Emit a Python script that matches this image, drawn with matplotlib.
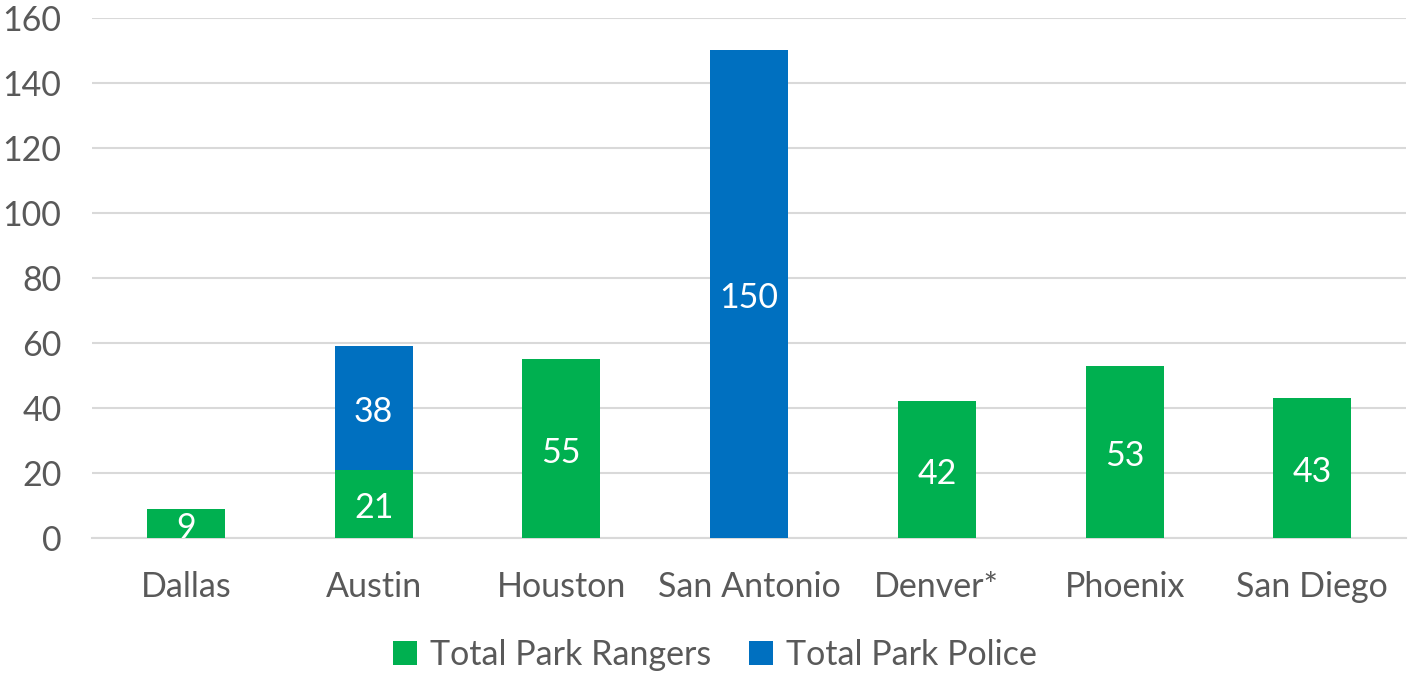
import matplotlib
matplotlib.use("Agg")
import matplotlib.pyplot as plt
import numpy as np

plt.rcParams['font.family'] = ['Lato', 'DejaVu Sans']
plt.rcParams.update({'font.size': 24.5})

cities = ['Dallas', 'Austin', 'Houston', 'San Antonio', 'Denver*', 'Phoenix', 'San Diego']
rangers = [9, 21, 55, 0, 42, 53, 43]
police = [0, 38, 0, 150, 0, 0, 0]

green = '#00B050'
blue = '#0070C0'
grey = '#595959'

x = np.arange(len(cities))
width = 0.415

fig = plt.figure(figsize=(14.09, 6.74), dpi=100)
ax = fig.add_axes([0.0653, 0.2018, 0.9327, 0.7715])

r1 = ax.bar(x, rangers, width, color=green, label='Total Park Rangers', zorder=3)
r2 = ax.bar(x, police, width, bottom=rangers, color=blue, label='Total Park Police', zorder=3)

t1 = ax.bar_label(r1, labels=[str(v) if v else '' for v in rangers], label_type='center', color='white')
t2 = ax.bar_label(r2, labels=[str(v) if v else '' for v in police], label_type='center', color='white')
# nudge the labels down a touch (offset points)
for t in list(t1) + list(t2):
    t.xyann = (0, -3)

ax.set_xlim(-0.5, len(cities) - 0.5)
ax.set_ylim(0, 160)
ax.set_yticks(range(0, 161, 20))
ax.set_xticks(x)
ax.set_xticklabels(cities)
ax.tick_params(length=0, colors=grey)
ax.tick_params(axis='y', pad=22)
ax.tick_params(axis='x', pad=24)
ax.grid(axis='y', color='#D9D9D9', linewidth=1.5, zorder=0)
for s in ['top', 'right', 'left']:
    ax.spines[s].set_visible(False)
ax.spines['bottom'].set_color('#D9D9D9')
ax.spines['bottom'].set_linewidth(1.5)

leg = ax.legend(loc='center', bbox_to_anchor=(0.474, -0.225), ncol=2, frameon=False,
                handlelength=0.7, handleheight=0.7, handletextpad=0.4, columnspacing=1.1)
for t in leg.get_texts():
    t.set_color(grey)

plt.savefig('out.png', dpi=100)
